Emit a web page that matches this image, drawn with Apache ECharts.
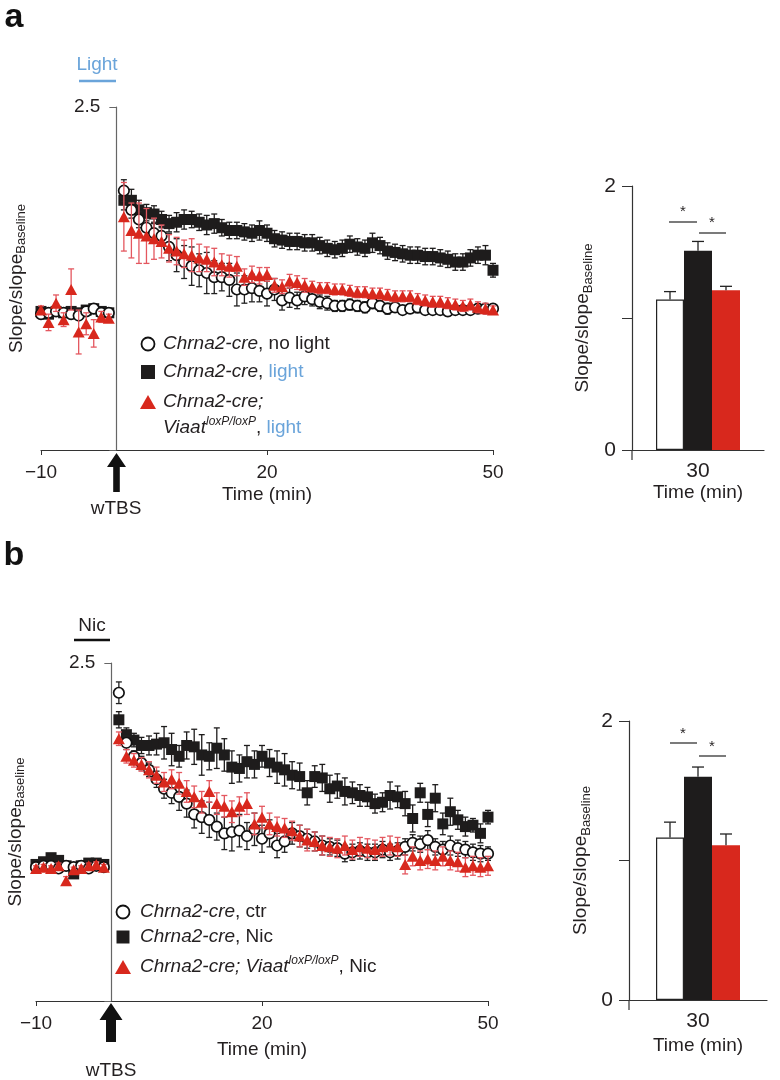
<!DOCTYPE html>
<html><head><meta charset="utf-8">
<script src="https://cdn.jsdelivr.net/npm/echarts@6/dist/echarts.min.js"></script>
<style>html,body{margin:0;padding:0;background:#fff}#c{width:780px;height:1080px}</style>
</head><body><div id="c"></div>
<script>
// ---------- DATA ----------
const times = [-10,-9,-8,-7,-6,-5,-4,-3,-2,-1,
  1,2,3,4,5,6,7,8,9,10,11,12,13,14,15,16,17,18,19,20,21,22,23,24,25,
  26,27,28,29,30,31,32,33,34,35,36,37,38,39,40,41,42,43,44,45,46,47,48,49,50];

// Panel a : time course
const aNoLight = [0.99,1.00,1.01,1.00,0.99,0.98,1.01,1.03,1.00,1.00,
  1.89,1.75,1.68,1.62,1.58,1.56,1.48,1.42,1.37,1.34,1.31,1.29,1.26,1.26,1.24,
  1.17,1.17,1.18,1.16,1.14,1.17,1.09,1.11,1.09,1.12,1.10,1.08,1.07,1.05,1.05,
  1.06,1.05,1.04,1.07,1.05,1.03,1.04,1.02,1.03,1.04,1.02,1.02,1.02,1.01,1.02,
  1.02,1.02,1.03,1.03,1.03];
const aNoLightErr = [0.03,0.03,0.03,0.03,0.03,0.03,0.03,0.03,0.03,0.03,
  0.08,0.06,0.06,0.07,0.07,0.07,0.10,0.12,0.12,0.14,0.12,0.15,0.12,0.10,0.12,
  0.12,0.10,0.10,0.08,0.09,0.08,0.07,0.07,0.06,0.06,0.05,0.05,0.05,0.04,0.04,
  0.04,0.04,0.04,0.04,0.04,0.04,0.03,0.03,0.03,0.04,0.03,0.03,0.03,0.03,0.03,
  0.03,0.03,0.03,0.03,0.03];
const aLight = [1.01,0.99,1.01,1.00,1.01,1.00,1.02,1.03,1.01,1.00,
  1.82,1.82,1.75,1.73,1.72,1.68,1.65,1.66,1.68,1.68,1.66,1.64,1.65,1.62,1.60,
  1.60,1.59,1.58,1.60,1.58,1.54,1.53,1.52,1.52,1.51,1.51,1.49,1.47,1.46,1.47,
  1.50,1.48,1.47,1.51,1.49,1.45,1.44,1.43,1.42,1.42,1.41,1.41,1.40,1.39,1.37,
  1.37,1.40,1.42,1.42,1.31];
const aLightErr = [0.02,0.02,0.02,0.02,0.02,0.02,0.02,0.02,0.02,0.02,
  0.07,0.08,0.07,0.06,0.06,0.06,0.06,0.07,0.07,0.06,0.06,0.07,0.07,0.06,0.06,
  0.06,0.06,0.06,0.07,0.06,0.06,0.06,0.06,0.06,0.06,0.06,0.06,0.06,0.06,0.06,
  0.06,0.06,0.06,0.07,0.06,0.06,0.06,0.06,0.06,0.06,0.06,0.06,0.06,0.06,0.06,
  0.06,0.06,0.06,0.07,0.05];
const aVgat = [1.02,0.93,1.07,0.95,1.17,0.86,0.92,0.85,0.97,0.96,
  1.70,1.60,1.58,1.56,1.54,1.52,1.47,1.45,1.43,1.42,1.40,1.39,1.37,1.35,1.34,
  1.34,1.26,1.28,1.27,1.28,1.20,1.19,1.23,1.22,1.20,1.19,1.18,1.18,1.17,1.17,
  1.16,1.15,1.15,1.14,1.14,1.13,1.12,1.12,1.12,1.10,1.09,1.08,1.08,1.07,1.06,
  1.05,1.06,1.04,1.03,1.02];
const aVgatErr = [0.03,0.06,0.06,0.05,0.15,0.16,0.08,0.10,0.04,0.03,
  0.25,0.20,0.22,0.20,0.15,0.12,0.10,0.10,0.10,0.12,0.10,0.09,0.10,0.08,0.08,
  0.07,0.06,0.06,0.06,0.05,0.05,0.05,0.05,0.05,0.05,0.04,0.04,0.04,0.04,0.04,
  0.04,0.04,0.04,0.04,0.04,0.04,0.04,0.04,0.04,0.04,0.04,0.04,0.04,0.04,0.04,
  0.04,0.04,0.04,0.04,0.03];

// Panel b : time course
const bCtr = [0.99,1.00,1.00,0.98,1.00,0.99,1.00,0.98,1.00,0.99,
  2.28,1.91,1.81,1.76,1.71,1.64,1.57,1.54,1.51,1.46,1.38,1.36,1.34,1.29,1.24,
  1.25,1.26,1.22,1.27,1.20,1.24,1.15,1.18,1.24,1.22,1.20,1.18,1.15,1.14,1.13,
  1.09,1.10,1.11,1.10,1.10,1.12,1.10,1.11,1.14,1.17,1.16,1.19,1.14,1.12,1.15,
  1.13,1.12,1.10,1.09,1.09];
const bCtrErr = [0.02,0.02,0.02,0.02,0.02,0.02,0.02,0.02,0.02,0.02,
  0.08,0.05,0.04,0.05,0.05,0.06,0.07,0.08,0.10,0.10,0.10,0.12,0.13,0.10,0.12,
  0.14,0.12,0.10,0.12,0.10,0.10,0.09,0.08,0.08,0.08,0.07,0.07,0.07,0.06,0.06,
  0.06,0.06,0.06,0.06,0.06,0.06,0.06,0.06,0.06,0.06,0.06,0.07,0.06,0.06,0.07,
  0.06,0.06,0.06,0.06,0.05];
const bNic = [1.01,1.03,1.06,1.04,1.00,0.94,1.00,1.02,1.02,1.01,
  2.08,1.97,1.93,1.89,1.89,1.90,1.91,1.86,1.81,1.89,1.88,1.82,1.81,1.87,1.82,
  1.73,1.72,1.77,1.75,1.81,1.76,1.73,1.71,1.67,1.66,1.54,1.66,1.65,1.57,1.59,
  1.55,1.54,1.52,1.51,1.46,1.47,1.52,1.51,1.46,1.35,1.54,1.38,1.50,1.31,1.40,
  1.34,1.29,1.30,1.24,1.36];
const bNicErr = [0.02,0.02,0.03,0.02,0.02,0.03,0.02,0.02,0.02,0.02,
  0.06,0.05,0.05,0.06,0.07,0.08,0.12,0.12,0.08,0.10,0.13,0.15,0.10,0.15,0.12,
  0.12,0.10,0.12,0.10,0.08,0.10,0.12,0.12,0.10,0.10,0.09,0.08,0.10,0.10,0.09,
  0.10,0.08,0.08,0.07,0.07,0.07,0.10,0.08,0.09,0.10,0.07,0.09,0.10,0.08,0.10,
  0.07,0.07,0.05,0.07,0.05];
const bVgat = [0.98,0.99,0.98,1.00,0.89,0.97,0.98,1.00,1.01,0.99,
  1.94,1.81,1.78,1.75,1.71,1.67,1.62,1.64,1.61,1.55,1.51,1.47,1.55,1.46,1.44,
  1.40,1.44,1.46,1.31,1.36,1.31,1.29,1.28,1.26,1.22,1.19,1.18,1.15,1.14,1.13,
  1.15,1.12,1.14,1.13,1.12,1.14,1.15,1.14,1.01,1.07,1.04,1.05,1.04,1.07,1.04,
  1.03,0.99,1.00,0.99,1.00];
const bVgatErr = [0.02,0.02,0.02,0.02,0.03,0.02,0.02,0.02,0.02,0.02,
  0.05,0.05,0.05,0.05,0.06,0.06,0.07,0.07,0.08,0.08,0.08,0.08,0.08,0.08,0.08,
  0.08,0.07,0.08,0.08,0.08,0.08,0.07,0.07,0.07,0.08,0.08,0.07,0.07,0.07,0.07,
  0.07,0.07,0.07,0.07,0.07,0.07,0.07,0.07,0.07,0.07,0.07,0.07,0.07,0.07,0.07,
  0.07,0.07,0.07,0.07,0.07];

// Bar charts at 30 min
const barCategory = ['30'];
const barA = [1.14, 1.51, 1.21];
const barAErr = [0.06, 0.07, 0.03];
const barB = [1.165, 1.60, 1.11];
const barBErr = [0.11, 0.07, 0.08];

const xTicks = [-10, 20, 50];

// ---------- STYLE ----------
const FONT = 'Liberation Sans, Arial, Helvetica, sans-serif';
const TXT = '#231f20';
const RED = '#d8281d';
const BLK = '#1e1c1c';
const BLUE = '#6aa4da';
const TIME_W = 452;           // plot width of the time-course grids
const Y_SHIFT = -TIME_W * 10 / 60;   // y axis drawn at t = 0

function pts(vals){ return times.map((t,i)=>[t, vals[i]]); }
function errPts(vals, errs){ return times.map((t,i)=>[t, vals[i], errs[i]]); }

function errRender(color){
  return function(params, api){
    const x = api.value(0), y = api.value(1), e = api.value(2);
    const a = api.coord([x, y + e]), b = api.coord([x, y - e]);
    const w = 3;
    const st = {stroke: color, lineWidth: 1.3};
    return {type:'group', children:[
      {type:'line', shape:{x1:a[0],y1:a[1],x2:b[0],y2:b[1]}, style:st},
      {type:'line', shape:{x1:a[0]-w,y1:a[1],x2:a[0]+w,y2:a[1]}, style:st},
      {type:'line', shape:{x1:b[0]-w,y1:b[1],x2:b[0]+w,y2:b[1]}, style:st}
    ]};
  };
}
const BAR_W = 28;
function barErrRender(params, api){
  const k = api.value(3), v = api.value(1), e = api.value(2);
  const p = api.coord([0, v]), q = api.coord([0, v + e]);
  const x = p[0] + (k - 1) * BAR_W;
  const st = {stroke: '#222', lineWidth: 1.3};
  return {type:'group', children:[
    {type:'line', shape:{x1:x,y1:p[1],x2:x,y2:q[1]}, style:st},
    {type:'line', shape:{x1:x-6,y1:q[1],x2:x+6,y2:q[1]}, style:st}
  ]};
}

function timeX(gi, gap){
  return {gridIndex: gi, type:'value', min:-10, max:50, interval:30,
    axisLine:{onZero:false, lineStyle:{color:'#333', width:1.2}},
    axisTick:{show:true, length:5, lineStyle:{color:'#333'}},
    splitLine:{show:false},
    axisLabel:{margin:13, fontSize:19, color:TXT, fontFamily:FONT,
      formatter: v => xTicks.indexOf(v) >= 0 ? String(v).replace('-', '\u2212') : ''},
    name:'Time (min)', nameLocation:'middle', nameGap:gap,
    nameTextStyle:{fontSize:19, color:TXT, fontFamily:FONT}};
}
const yName = '{m|Slope/slope}{s|Baseline}';
const yNameStyle = {color:TXT, fontFamily:FONT, rich:{
  m:{fontSize:19, color:TXT, fontFamily:FONT, lineHeight:24, verticalAlign:'middle'},
  s:{fontSize:13, color:TXT, fontFamily:FONT, lineHeight:13, verticalAlign:'bottom'}}};
function timeY(gi, gap){
  return {gridIndex: gi, type:'value', min:0, max:2.5, interval:2.5,
    offset: Y_SHIFT,
    axisLine:{onZero:false, lineStyle:{color:'#666', width:1.2}},
    axisTick:{show:true, length:7, lineStyle:{color:'#666'}},
    splitLine:{show:false},
    axisLabel:{margin:16, fontSize:19, color:TXT, fontFamily:FONT,
      formatter: v => v === 2.5 ? '2.5' : ''},
    name: yName, nameLocation:'middle', nameRotate:90, nameGap:gap,
    nameTextStyle: yNameStyle};
}
function barX(gi, gap){
  return {gridIndex: gi, type:'category', data: barCategory,
    axisLine:{lineStyle:{color:'#333', width:1.2}},
    axisTick:{show:false},
    axisLabel:{margin:11, fontSize:21, color:TXT, fontFamily:FONT},
    name:'Time (min)', nameLocation:'middle', nameGap:gap,
    nameTextStyle:{fontSize:19, color:TXT, fontFamily:FONT}};
}
function barY(gi, gap){
  return {gridIndex: gi, type:'value', min:0, max:2, interval:1,
    axisLine:{show:true, lineStyle:{color:'#333', width:1.2}},
    axisTick:{show:true, length:10, lineStyle:{color:'#333'}},
    splitLine:{show:false},
    axisLabel:{margin:16, fontSize:21, color:TXT, fontFamily:FONT,
      formatter: v => v === 1 ? '' : String(v)},
    name: yName, nameLocation:'middle', nameRotate:90, nameGap:gap,
    nameTextStyle: yNameStyle};
}

function timeSeries(xi, blackVals, blackErr, whiteVals, whiteErr, redVals, redErr){
  return [
    {type:'custom', xAxisIndex:xi, yAxisIndex:xi, renderItem:errRender(BLK), data:errPts(blackVals, blackErr), z:2},
    {type:'scatter', xAxisIndex:xi, yAxisIndex:xi, symbol:'rect', symbolSize:11, data:pts(blackVals),
      itemStyle:{color:BLK, opacity:1}, z:3},
    {type:'custom', xAxisIndex:xi, yAxisIndex:xi, renderItem:errRender('#222'), data:errPts(whiteVals, whiteErr), z:4},
    {type:'scatter', xAxisIndex:xi, yAxisIndex:xi, symbol:'circle', symbolSize:10.5, data:pts(whiteVals),
      itemStyle:{color:'#fff', borderColor:'#111', borderWidth:1.7, opacity:1}, z:5},
    {type:'custom', xAxisIndex:xi, yAxisIndex:xi, renderItem:errRender('#e4575f'), data:errPts(redVals, redErr), z:6},
    {type:'scatter', xAxisIndex:xi, yAxisIndex:xi, symbol:'triangle', symbolSize:[12,11], data:pts(redVals),
      itemStyle:{color:RED, opacity:1}, z:7}
  ];
}
function barSeries(xi, vals, errs){
  const styles = [
    {color:'#fff', borderColor:'#222', borderWidth:1.2},
    {color:BLK},
    {color:RED}
  ];
  const s = vals.map((v,i)=>({type:'bar', xAxisIndex:xi, yAxisIndex:xi, barWidth:BAR_W, barGap:'0%',
    data:[v], itemStyle:styles[i], z:2}));
  s.push({type:'custom', xAxisIndex:xi, yAxisIndex:xi, renderItem:barErrRender, z:3,
    data: vals.map((v,i)=>[0, v, errs[i], i])});
  return s;
}

// legend helpers
function legendText(x, y, txt){
  return {type:'text', x:x, y:y, style:{text:txt, fontSize:19, fontFamily:FONT, fill:TXT,
    align:'left', verticalAlign:'middle',
    rich:{
      i:{fontStyle:'italic', fontSize:19, fontFamily:FONT, fill:TXT, verticalAlign:'middle', lineHeight:24},
      n:{fontSize:19, fontFamily:FONT, fill:TXT, verticalAlign:'middle', lineHeight:24},
      b:{fontSize:19, fontFamily:FONT, fill:BLUE, verticalAlign:'middle', lineHeight:24},
      sup:{fontStyle:'italic', fontSize:12, fontFamily:FONT, fill:TXT, verticalAlign:'top', lineHeight:24}
    }}};
}
function circ(x,y,r){ return {type:'circle', shape:{cx:x, cy:y, r:r}, style:{fill:'#fff', stroke:'#111', lineWidth:1.8}}; }
function sq(x,y,s){ return {type:'rect', shape:{x:x-s/2, y:y-s/2, width:s, height:s}, style:{fill:BLK}}; }
function tri(x,y,s){ return {type:'polygon', shape:{points:[[x,y-s/2],[x+s/2+1,y+s/2],[x-s/2-1,y+s/2]]}, style:{fill:RED}}; }
function line(x1,y1,x2,y2,color,w){ return {type:'line', shape:{x1,y1,x2,y2}, style:{stroke:color, lineWidth:w}}; }
function txt(x,y,t,size,color,extra){ return {type:'text', x:x, y:y, style:Object.assign({text:t, fontSize:size, fontFamily:FONT, fill:color, align:'center', verticalAlign:'middle'}, extra||{})}; }

const option = {
  animation:false,
  backgroundColor:'#fff',
  grid:[
    {left:41, top:107, width:TIME_W, height:343, outerBoundsMode:'none', containLabel:false},
    {left:632, top:186, width:132, height:264, outerBoundsMode:'none', containLabel:false},
    {left:36, top:663, width:TIME_W, height:338, outerBoundsMode:'none', containLabel:false},
    {left:629, top:721, width:138, height:279, outerBoundsMode:'none', containLabel:false}
  ],
  xAxis:[timeX(0,35), barX(1,33), timeX(2,39), barX(3,36)],
  yAxis:[timeY(0,88), barY(1,37), timeY(2,84), barY(3,36)],
  series:[].concat(
    timeSeries(0, aLight, aLightErr, aNoLight, aNoLightErr, aVgat, aVgatErr),
    barSeries(1, barA, barAErr),
    timeSeries(2, bNic, bNicErr, bCtr, bCtrErr, bVgat, bVgatErr),
    barSeries(3, barB, barBErr)
  ),
  graphic:[
    txt(14, 18, 'a', 34, '#111', {fontWeight:'bold'}),
    txt(14, 556, 'b', 34, '#111', {fontWeight:'bold'}),
    // Light / Nic application bars
    txt(97, 65, 'Light', 19, BLUE),
    line(79, 81, 116, 81, BLUE, 2.5),
    txt(92, 626, 'Nic', 19, TXT),
    line(74, 640, 110, 640, '#111', 2.5),
    // wTBS arrows
    {type:'polygon', shape:{points:[[116.5,453],[126,467],[119.8,467],[119.8,492],[113.2,492],[113.2,467],[107,467]]}, style:{fill:'#111'}},
    txt(116, 509, 'wTBS', 19, TXT),
    {type:'polygon', shape:{points:[[111,1003],[122.5,1020],[116,1020],[116,1042],[106,1042],[106,1020],[99.5,1020]]}, style:{fill:'#111'}},
    txt(111, 1071, 'wTBS', 19, TXT),
    // bar-panel axis stubs below zero
    line(632, 450, 632, 460, '#333', 1.2),
    line(629, 1000, 629, 1010, '#333', 1.2),
    // legend a
    circ(148, 344, 6.5), legendText(163, 344, '{i|Chrna2-cre}{n|, no light}'),
    sq(148, 372, 14), legendText(163, 372, '{i|Chrna2-cre}{n|, }{b|light}'),
    tri(148, 402, 14), legendText(163, 402, '{i|Chrna2-cre;}'),
    legendText(163, 428, '{i|Viaat}{sup|loxP/loxP}{n|, }{b|light}'),
    // legend b
    circ(123, 912, 6.5), legendText(140, 912, '{i|Chrna2-cre}{n|, ctr}'),
    sq(123, 937, 13), legendText(140, 937, '{i|Chrna2-cre}{n|, Nic}'),
    tri(123, 967, 14), legendText(140, 967, '{i|Chrna2-cre; Viaat}{sup|loxP/loxP}{n|, Nic}'),
    // significance a
    line(669, 222, 697, 222, '#333', 1.3), txt(683, 212, '*', 15, TXT),
    line(699, 233, 726, 233, '#333', 1.3), txt(712, 223, '*', 15, TXT),
    // significance b
    line(670, 743, 697, 743, '#333', 1.3), txt(683, 734, '*', 15, TXT),
    line(699, 756, 726, 756, '#333', 1.3), txt(712, 747, '*', 15, TXT)
  ]
};
const chart = echarts.init(document.getElementById('c'), null, {renderer:'canvas'});
chart.setOption(option);
</script>
</body></html>
